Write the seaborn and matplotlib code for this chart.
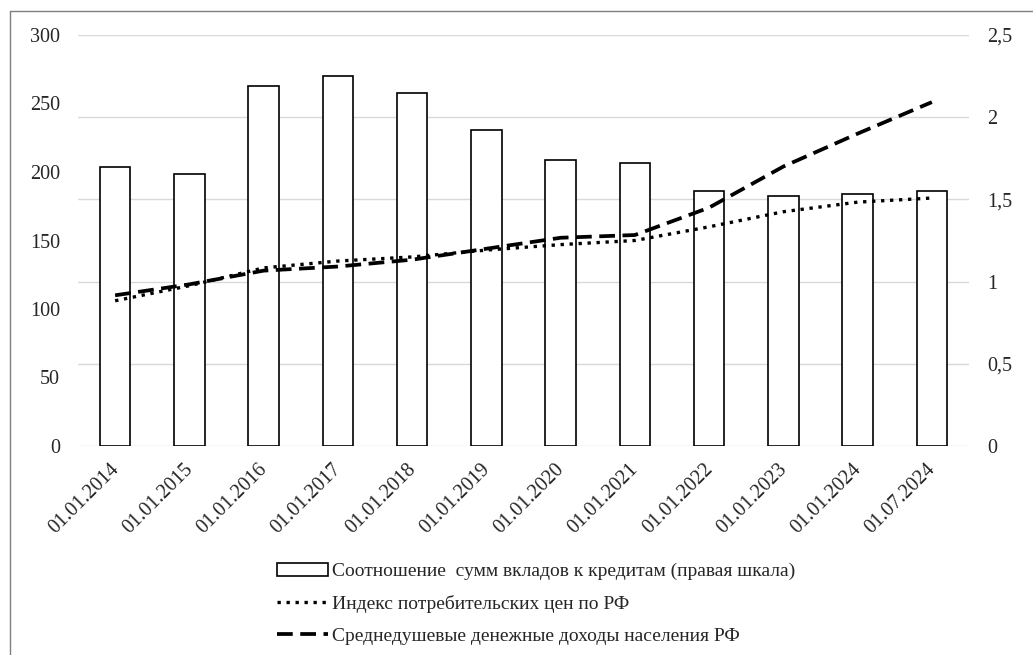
import matplotlib
matplotlib.use("Agg")
import matplotlib.pyplot as plt
import matplotlib.transforms as mtransforms
import seaborn as sns
import pandas as pd
from matplotlib.patches import Patch
from matplotlib.lines import Line2D

dates = ["01.01.2014", "01.01.2015", "01.01.2016", "01.01.2017", "01.01.2018",
         "01.01.2019", "01.01.2020", "01.01.2021", "01.01.2022", "01.01.2023",
         "01.01.2024", "01.07.2024"]
# deposits / loans ratio (right axis)
ratio = [1.70, 1.655, 2.19, 2.25, 2.15, 1.92, 1.74, 1.72, 1.55, 1.52, 1.53, 1.55]
# consumer price index (left axis)
cpi = [106, 117, 130, 135, 138, 143, 147, 150, 160, 171, 178, 181]
# per-capita money income (left axis)
income = [110, 118, 128, 131, 136, 144, 152, 154, 174, 204, 228, 251]

lbl_bar = "Соотношение  сумм вкладов к кредитам (правая шкала)"
lbl_cpi = "Индекс потребительских цен по РФ"
lbl_inc = "Среднедушевые денежные доходы населения РФ"

df = pd.DataFrame({"date": dates, "ratio": ratio, "cpi": cpi, "income": income})

sns.set_theme(style="white")
plt.rcParams["font.family"] = ["Liberation Serif", "DejaVu Serif"]
txt = "#262626"
dot = (0, (1, 1.7))
dash = (0, (4.2, 2))

fig = plt.figure(figsize=(10.33, 6.55), dpi=100)
ax = fig.add_axes([78 / 1033, 1 - 446 / 655, 891 / 1033, 411 / 655])
ax2 = ax.twinx()

# bars on the right scale, drawn behind the lines
ax2.set_axisbelow(True)
ax2.yaxis.grid(True, color="#d9d9d9", linewidth=1)
sns.barplot(data=df, x="date", y="ratio", ax=ax2, color="white",
            edgecolor="black", linewidth=1.2, width=0.41, saturation=1)

sns.lineplot(data=df, x="date", y="cpi", ax=ax, color="black",
             linestyle=dot, linewidth=2.4)
sns.lineplot(data=df, x="date", y="income", ax=ax, color="black",
             linestyle=dash, linewidth=2.7)

ax.set_zorder(ax2.get_zorder() + 1)
ax.patch.set_visible(False)

ax.set_ylim(0, 300)
ax.set_yticks(range(0, 301, 50))
ax2.set_ylim(0, 2.5)
ax2.set_yticks([0, 0.5, 1, 1.5, 2, 2.5])
ax2.set_yticklabels(["0", "0,5", "1", "1,5", "2", "2,5"])
ax.set_xlim(-0.5, len(dates) - 0.5)

for a in (ax, ax2):
    a.set_xlabel("")
    a.set_ylabel("")
    for s in a.spines.values():
        s.set_visible(False)
    a.tick_params(length=0, colors=txt, labelsize=14.5)

ax.tick_params(axis="y", pad=13)
ax2.tick_params(axis="y", pad=13)
ax.set_xticks(range(len(dates)))
ax.set_xticklabels(dates, rotation=45, ha="right", rotation_mode="anchor")
ax.tick_params(axis="x", pad=10, labelbottom=True)
# nudge the rotated date labels a little to the left
shift = mtransforms.ScaledTranslation(-0.06, 0, fig.dpi_scale_trans)
for t in ax.get_xticklabels():
    t.set_transform(t.get_transform() + shift)

handles = [
    Patch(facecolor="white", edgecolor="black", linewidth=1.2),
    Line2D([], [], color="black", linestyle=dot, linewidth=2.4),
    Line2D([], [], color="black", linestyle=dash, linewidth=2.7),
]
fig.legend(handles, [lbl_bar, lbl_cpi, lbl_inc], loc="center",
           bbox_to_anchor=(536 / 1033, 1 - 604 / 655), frameon=False,
           fontsize=14, labelspacing=0.75, handlelength=2.6,
           handletextpad=0.2, labelcolor=txt)

# outer frame of the chart area (left and top edges)
fig.add_artist(Line2D([10 / 1033, 10 / 1033], [0, 1 - 11 / 655],
                      transform=fig.transFigure, color="#7f7f7f", linewidth=1))
fig.add_artist(Line2D([10 / 1033, 1], [1 - 11 / 655, 1 - 11 / 655],
                      transform=fig.transFigure, color="#7f7f7f", linewidth=1))

fig.savefig("out.png", dpi=100)
